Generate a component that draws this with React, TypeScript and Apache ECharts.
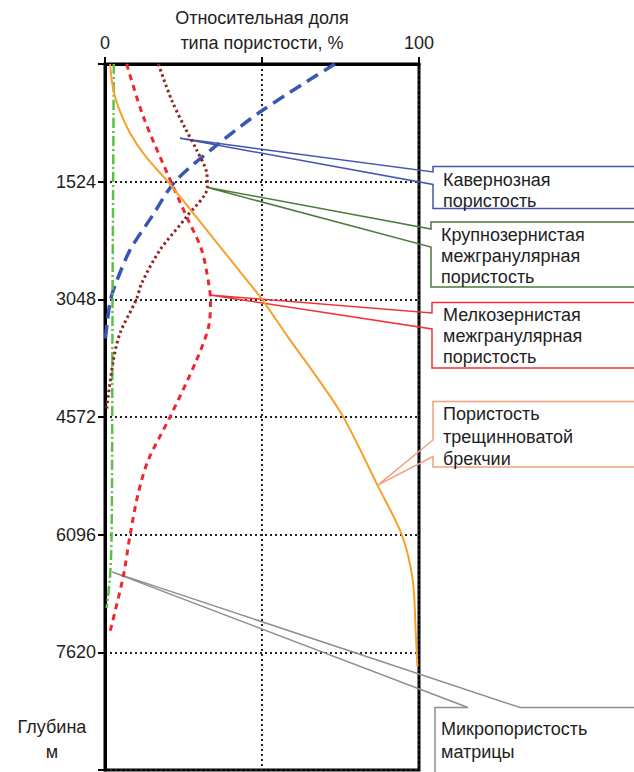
import { useEffect, useRef } from "react";
import * as echarts from "echarts";

// Axis ticks
const DEPTH_TICKS = [0, 1524, 3048, 4572, 6096, 7620, 9144];
const SHARE_TICKS = [0, 50, 100];

// Curves as [share %, depth m]
const CAVERNOUS = [
  [73.2, 0], [50.3, 596], [35, 1071], [22.3, 1524], [14.9, 1977], [8, 2408],
  [3.5, 2836], [1.8, 3048], [0.7, 3350], [0, 3610],
];
const FRACTURED_BRECCIA = [
  [1.6, 0], [2.5, 300], [4.2, 552], [8, 896], [13, 1200], [20, 1524], [29, 1977],
  [40, 2538], [50, 3048], [58.5, 3550], [66.5, 4000], [75.9, 4572], [87, 5474],
  [94.5, 6096], [98, 6683], [99, 7400], [99.5, 7806],
];
const FINE_INTERGRANULAR = [
  [6.9, 0], [12.2, 682], [21, 1524], [26, 1977], [30.8, 2409], [33, 2838],
  [33.6, 3048], [33, 3402], [29, 3850], [20.7, 4572], [13.8, 5128], [10.6, 5557],
  [8, 6096], [5.8, 6640], [1.6, 7352],
];
const COARSE_INTERGRANULAR = [
  [17, 0], [21.2, 466], [25.5, 830], [29.2, 1114], [32.4, 1413], [32.6, 1589], [26, 1977],
  [17.5, 2409], [11.7, 2838], [10, 3048], [4.8, 3485], [2.6, 3850], [0.5, 4481],
];
const MATRIX_MICRO = [
  [2.8, 0], [2.6, 1524], [2.4, 3048], [2.3, 4572], [2.1, 6096], [1.6, 6640], [0.5, 7047],
];

// Callout labels and the data points they point to
const CALLOUT_TEXTS = [
  ["Кавернозная", "пористость"],
  ["Крупнозернистая", "межгранулярная", "пористость"],
  ["Мелкозернистая", "межгранулярная", "пористость"],
  ["Пористость", "трещинноватой", "брекчии"],
  ["Микропористость", "матрицы"],
];
const CALLOUT_ANCHORS = [
  [23.9, 962],
  [32.4, 1597],
  [33.4, 2991],
  [87, 5451],
  [2.2, 6578],
];

const AXIS_TITLE = ["Относительная доля", "типа пористости, %"];
const DEPTH_TITLE = ["Глубина", "м"];

const FONT = "Liberation Sans, Arial, sans-serif";
const TEXT_COLOR = "#1e1e1e";
const W = 634;
const H = 772;

// Bracket boxes notched on the left side
const SIDE_BOXES = [
  { color: "#4455b0", left: 433, top: 166.5, n1: 172, n2: 184.5, bottom: 208.5, textX: 443, textY: 180, lh: 20.5 },
  { color: "#4f7a3d", left: 431, top: 222, n1: 229, n2: 247, bottom: 287, textX: 441, textY: 235, lh: 21 },
  { color: "#ee3338", left: 432, top: 302.5, n1: 313, n2: 329, bottom: 368, textX: 443, textY: 315, lh: 21 },
  { color: "#f3a07c", left: 433, top: 401.5, n1: 440, n2: 456.5, bottom: 467, textX: 443, textY: 414, lh: 22.5 },
];
// Box notched on its top edge
const TOP_BOX = { color: "#8e8e8e", left: 435, top: 707.5, n1: 468, n2: 520, textX: 441, textY: 729, lh: 23 };

export default function App() {
  const ref = useRef<HTMLDivElement>(null);

  useEffect(() => {
    document.body.style.margin = "0";
    const chart = echarts.init(ref.current!, null, { renderer: "svg" });

    const dotted = { color: "#222", width: 2, type: [2, 3] as any };
    const lineSeries = (name: string, data: number[][], color: string, width: number, dash: any, z = 2) => ({
      name,
      type: "line",
      data,
      showSymbol: false,
      smooth: 0.3,
      z,
      lineStyle: { color, width, type: dash, cap: "butt" },
    });

    chart.setOption({
      animation: false,
      backgroundColor: "#fff",
      grid: {
        left: 105, top: 64, width: 314, height: 706,
        show: true, borderColor: "#000", borderWidth: 3, backgroundColor: "transparent",
      },
      xAxis: {
        type: "value",
        position: "top",
        min: SHARE_TICKS[0],
        max: SHARE_TICKS[SHARE_TICKS.length - 1],
        interval: SHARE_TICKS[1] - SHARE_TICKS[0],
        axisLine: { show: true, lineStyle: { color: "#000", width: 3 } },
        axisTick: { show: true, length: 7, lineStyle: { color: "#000", width: 2 } },
        axisLabel: {
          margin: 12,
          fontSize: 18,
          fontFamily: FONT,
          color: TEXT_COLOR,
          formatter: (v: number) => (v === 50 ? "" : String(v)),
        },
        splitLine: { show: true, lineStyle: dotted },
      },
      yAxis: {
        type: "value",
        inverse: true,
        min: DEPTH_TICKS[0],
        max: DEPTH_TICKS[DEPTH_TICKS.length - 1],
        interval: DEPTH_TICKS[1] - DEPTH_TICKS[0],
        axisLine: { show: true, lineStyle: { color: "#000", width: 3 } },
        axisTick: { show: true, length: 7, lineStyle: { color: "#000", width: 2 } },
        axisLabel: {
          margin: 9,
          fontSize: 18,
          fontFamily: FONT,
          color: TEXT_COLOR,
          formatter: (v: number) => (v === 0 || v === 9144 ? "" : String(v)),
        },
        splitLine: { show: true, lineStyle: dotted },
      },
      series: [
        lineSeries("Кавернозная пористость", CAVERNOUS, "#3a56b4", 3.5, [13, 7]),
        lineSeries("Микропористость матрицы", MATRIX_MICRO, "#5cbf48", 2.5, [10, 3, 2, 3]),
        lineSeries("Мелкозернистая межгранулярная пористость", FINE_INTERGRANULAR, "#f0282d", 3, [6, 5]),
        lineSeries("Крупнозернистая межгранулярная пористость", COARSE_INTERGRANULAR, "#8e2525", 3, [2.5, 3]),
        lineSeries("Пористость трещинноватой брекчии", FRACTURED_BRECCIA, "#f7a12c", 2, "solid", 3),
      ],
    });

    const tips = CALLOUT_ANCHORS.map((p) => chart.convertToPixel({ gridIndex: 0 }, p) as number[]);

    const textLines = (lines: string[], x: number, y0: number, lh: number, align = "left") =>
      lines.map((t, i) => ({
        type: "text",
        silent: true,
        style: {
          text: t, x, y: y0 + i * lh,
          fontSize: 18, fontFamily: FONT, fill: TEXT_COLOR,
          align, verticalAlign: "middle",
        },
      }));

    const graphics: any[] = [];
    graphics.push(...textLines(AXIS_TITLE, 262, 18, 25, "center"));
    graphics.push(...textLines(DEPTH_TITLE, 52, 727, 25, "center"));

    SIDE_BOXES.forEach((b, i) => {
      const tip = tips[i];
      graphics.push({
        type: "polyline",
        silent: true,
        shape: {
          points: [
            [W, b.top], [b.left, b.top], [b.left, b.n1], tip,
            [b.left, b.n2], [b.left, b.bottom], [W, b.bottom],
          ],
        },
        style: { stroke: b.color, lineWidth: 1.5, fill: null },
      });
      graphics.push(...textLines(CALLOUT_TEXTS[i], b.textX, b.textY, b.lh));
    });

    {
      const b = TOP_BOX;
      const tip = tips[4];
      graphics.push({
        type: "polyline",
        silent: true,
        shape: {
          points: [
            [W, b.top], [b.n2, b.top], tip, [b.n1, b.top], [b.left, b.top], [b.left, H + 5],
          ],
        },
        style: { stroke: b.color, lineWidth: 1.5, fill: null },
      });
      graphics.push(...textLines(CALLOUT_TEXTS[4], b.textX, b.textY, b.lh));
    }

    chart.setOption({ graphic: graphics });

    return () => chart.dispose();
  }, []);

  return <div ref={ref} style={{ width: W, height: H }} />;
}
